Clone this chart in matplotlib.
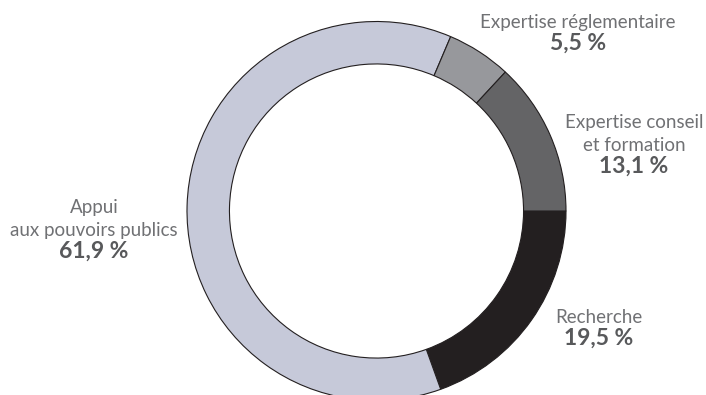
import matplotlib.pyplot as plt

# clockwise from 3 o'clock
labels = ["Recherche", "Appui\naux pouvoirs publics", "Expertise réglementaire", "Expertise conseil\net formation"]
values = [19.5, 61.9, 5.5, 13.1]
pct_text = ["19,5 %", "61,9 %", "5,5 %", "13,1 %"]
colors = ["#231f20", "#c6c9d9", "#97989c", "#646466"]

# label centre x and first baseline (pixels from top-left of the figure)
label_pos = [(599, 323), (94, 213), (578, 28), (634, 128)]

W, H = 706, 395
fig = plt.figure(figsize=(W / 100, H / 100), dpi=100)

cx, cy, r = 376.5, 211, 189.5
ax = fig.add_axes([(cx - r) / W, (H - cy - r) / H, 2 * r / W, 2 * r / H])
ax.pie(values, colors=colors, startangle=0, counterclock=False, radius=1,
       wedgeprops=dict(width=0.224, edgecolor="#231f20", linewidth=0.8))
ax.set_xlim(-1, 1)
ax.set_ylim(-1, 1)
ax.set_aspect("equal")
ax.axis("off")

line_h = 23
for lab, pct, (x, y) in zip(labels, pct_text, label_pos):
    lines = lab.split("\n")
    for i, ln in enumerate(lines):
        fig.text(x / W, 1 - (y + i * line_h) / H, ln, ha="center", va="baseline",
                 fontsize=13.5, family="Lato", weight="normal", color="#707174")
    fig.text(x / W, 1 - (y + len(lines) * line_h - 1) / H, pct, ha="center", va="baseline",
             fontsize=16.5, family="Lato", weight="bold", color="#58595b")

fig.savefig("out.png", dpi=100)
